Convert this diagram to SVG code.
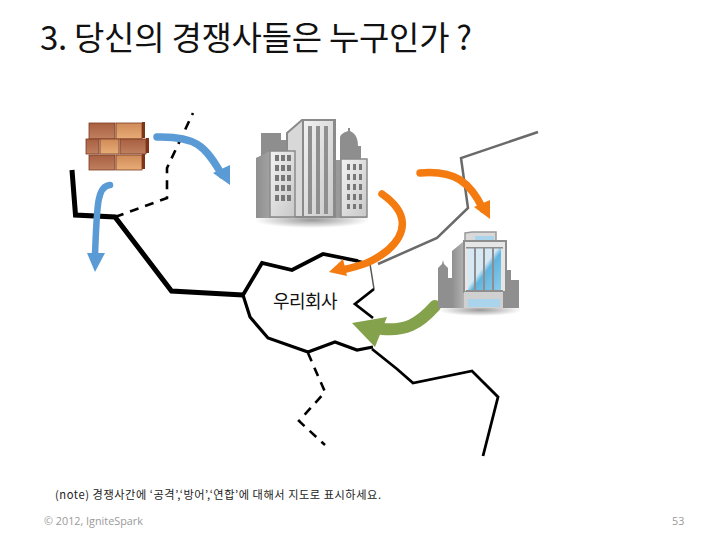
<svg xmlns="http://www.w3.org/2000/svg" width="728" height="546" viewBox="0 0 728 546">
<style>
.ko{font-family:"Noto Sans CJK KR","Noto Sans",sans-serif}
.foot{font-family:"Open Sans","Liberation Sans",sans-serif;font-size:10.800px;fill:#9a9a9a}
.bd{fill:none;stroke:#000;stroke-linejoin:miter}
.dash{fill:none;stroke:#000;stroke-width:2.600;stroke-dasharray:9 7}
.arr{fill:none;stroke-linecap:round}
.w{fill:#777}
.brick{stroke:#7a3a20;stroke-width:.8}
</style>
<defs>
<linearGradient id="bk" x1="0" y1="0" x2="0" y2="1"><stop offset="0" stop-color="#a85f42"/><stop offset="1" stop-color="#c08060"/></linearGradient>
<linearGradient id="bk2" x1="0" y1="0" x2="0" y2="1"><stop offset="0" stop-color="#cf8a58"/><stop offset="1" stop-color="#e8ad78"/></linearGradient>
<linearGradient id="gr" x1="0" y1="0" x2="1" y2="0"><stop offset="0" stop-color="#8f8f8f"/><stop offset="1" stop-color="#c4c4c4"/></linearGradient>
<linearGradient id="lt" x1="0" y1="0" x2="1" y2="1"><stop offset="0" stop-color="#f2f2f2"/><stop offset="1" stop-color="#c8c8c8"/></linearGradient>
<linearGradient id="gl" x1="0" y1="0" x2="1" y2="1"><stop offset="0.45" stop-color="#d5e8f4"/><stop offset="0.55" stop-color="#5fb4e0"/><stop offset="1" stop-color="#8ecbea"/></linearGradient>
<radialGradient id="sh"><stop offset="0" stop-color="#999"/><stop offset="1" stop-color="#999" stop-opacity="0"/></radialGradient>
</defs>
<rect width="728" height="546" fill="#fff"/>
<g id="title"><text class="ko" x="40" y="50" font-size="33" font-weight="400" fill="#111" textLength="432" lengthAdjust="spacing">3. 당신의 경쟁사들은 누구인가 ?</text></g>

<g id="connectors">
<path class="bd" stroke-width="5" d="M72 170L75.500 215L115 217L171.500 291L243 295"/>
<path class="bd" stroke-width="3.800" d="M243 295L262 263L292 270L323 254L358 261"/>
<path class="bd" stroke-width="3.200" d="M243 295L250 317L268 338L308 352L335 342L357 350L373 347"/>
<path class="bd" stroke-width="2.800" d="M358 261L370 264"/>
<path d="M370 264L374 289" fill="none" stroke="#555" stroke-width="1.500"/>
<path class="bd" stroke-width="2.800" d="M374 289L355 304L373 318"/>
<path class="bd" stroke-width="2.800" d="M372 349L397 369L413 383L472 371L498 397L483 456"/>
<path class="dash" d="M115 217L167 198L167 168L193 113"/>
<path class="dash" d="M308 353L325 392L299 421L325 445"/>
<path d="M378 264L437 238L468 208L461 158L538 132" fill="none" stroke="#6a6a6a" stroke-width="2.500"/>
<g id="arrow-blue-1"><path class="arr" stroke="#5b9bd5" stroke-width="7.500" d="M157 137C195 136 205 145 222 175"/><path fill="#5b9bd5" d="M213 173L230 165L230 185Z"/></g>
<g id="arrow-blue-2"><path class="arr" stroke="#5b9bd5" stroke-width="6.500" d="M110 185C97 186 97 205 95 255"/><path fill="#5b9bd5" d="M87 253L105 253L95 272Z"/></g>
<g id="arrow-orange-1"><path class="arr" stroke="#f47b10" stroke-width="7.500" d="M382 194C408 212 408 232 388 250C372 263 360 266 342 270"/><path fill="#f47b10" d="M343 259L347 276L329 272Z"/></g>
<g id="arrow-orange-2"><path class="arr" stroke="#f47b10" stroke-width="7.500" d="M420 173C455 170 470 182 483 209"/><path fill="#f47b10" d="M474 207L490 200L490 219Z"/></g>
<g id="arrow-green"><path class="arr" stroke="#84a24b" stroke-width="12" d="M435 306C418 325 405 331 382 329"/><path fill="#84a24b" d="M387 317L375 347L352 323Z"/></g>
</g>

<g id="node-brick">
<g class="brick" fill="url(#bk)">
<rect x="89" y="123" width="26" height="16"/><rect x="116" y="123" width="26" height="16" fill="url(#bk2)"/>
<rect x="86" y="139" width="13" height="15"/><rect x="100" y="139" width="19" height="15" fill="url(#bk2)"/><rect x="120" y="139" width="26" height="15"/>
<rect x="89" y="155" width="26" height="15"/><rect x="116" y="155" width="26" height="15" fill="url(#bk2)"/>
</g>
<path fill="#7d3418" d="M142 122h3v16h-3zM146 138h3v15h-3zM142 154h3v15h-3z"/>
</g>

<g id="node-competitors">
<ellipse cx="312" cy="220" rx="58" ry="8" fill="url(#sh)"/>
<path fill="#8e8e8e" d="M261 157V133H281V140L287 140V218H256V158ZM340 146V138C340 134 345 132 348 131V128H350V131C354 133 358 136 358 146H361V160H340Z"/>
<path fill="#9a9a9a" d="M333 160H367V218H333Z"/>
<path fill="#d8d8d8" stroke="#8a8a8a" stroke-width="2" d="M287 133L302 120H335V217H287Z"/>
<rect x="303" y="120" width="31" height="97" fill="url(#lt)" stroke="#8a8a8a" stroke-width="2"/>
<path fill="#8f8f8f" d="M308 126h4v88h-4zM316 126h4v88h-4zM324 126h4v88h-4z"/>
<path fill="url(#gr)" d="M256 158L270 151H295V218H256Z"/>
<rect x="270" y="151" width="25" height="66" fill="url(#lt)" stroke="#8a8a8a" stroke-width="1.500"/>
<g class="w" id="win-left"><path d="M275 155h4v6h-4zM281 155h4v6h-4zM287 155h4v6h-4zM275 165h4v6h-4zM281 165h4v6h-4zM287 165h4v6h-4zM275 175h4v6h-4zM281 175h4v6h-4zM287 175h4v6h-4zM275 185h4v6h-4zM281 185h4v6h-4zM287 185h4v6h-4zM275 195h4v6h-4zM281 195h4v6h-4zM287 195h4v6h-4z"/></g>
<rect x="341" y="159" width="26" height="58" fill="url(#lt)" stroke="#8a8a8a" stroke-width="1.500"/>
<g class="w" id="win-right"><path d="M347 164h3v6h-3zM353 164h3v6h-3zM359 164h3v6h-3zM347 174h3v6h-3zM353 174h3v6h-3zM359 174h3v6h-3zM347 184h3v6h-3zM353 184h3v6h-3zM359 184h3v6h-3zM347 194h3v6h-3zM353 194h3v6h-3zM359 194h3v6h-3zM347 204h3v5h-3zM353 204h3v5h-3zM359 204h3v5h-3z"/></g>
</g>

<g id="node-partner">
<ellipse cx="480" cy="310" rx="42" ry="6" fill="url(#sh)"/>
<path fill="#8f8f8f" d="M438 268L442 264L443 260L444 264L448 268V278L453 278V308H438ZM503 270H511V280H519V308H503Z"/>
<path fill="#d9d9d9" stroke="#999" stroke-width="1.500" d="M465 233L472 232H496V241H465Z"/>
<rect x="475" y="236" width="19" height="5" fill="#a9d4ec"/>
<path fill="url(#gr)" d="M452 251L464 241H470V308H452Z"/>
<rect x="464" y="241" width="42" height="51" fill="#e6e6e6" stroke="#8e8e8e" stroke-width="2"/>
<rect x="468" y="248" width="33" height="43" fill="url(#gl)"/>
<path fill="#8e8e8e" d="M466 247h37v1.500h-37zM474 248h2v42h-2zM483 248h2v42h-2zM492 248h2v42h-2zM466 290h37v1.500h-37z"/>
<rect x="464" y="292" width="39" height="16" fill="#d0d0d0"/>
<rect x="468" y="299" width="32" height="8" fill="#a9d4ec"/>
</g>

<g id="node-company"><text class="ko" x="305" y="308" font-size="18" font-weight="400" fill="#111" text-anchor="middle" letter-spacing="-0.500">우리회사</text></g>

<g id="note"><text class="ko" x="55" y="499" font-size="11.200" fill="#222" textLength="326" lengthAdjust="spacing">(note) 경쟁사간에 ‘공격’,‘방어’,‘연합’에 대해서 지도로 표시하세요.</text></g>
<g id="footer"><text class="foot" x="44" y="525">© 2012, IgniteSpark</text><text class="foot" x="672" y="525">53</text></g>
</svg>
